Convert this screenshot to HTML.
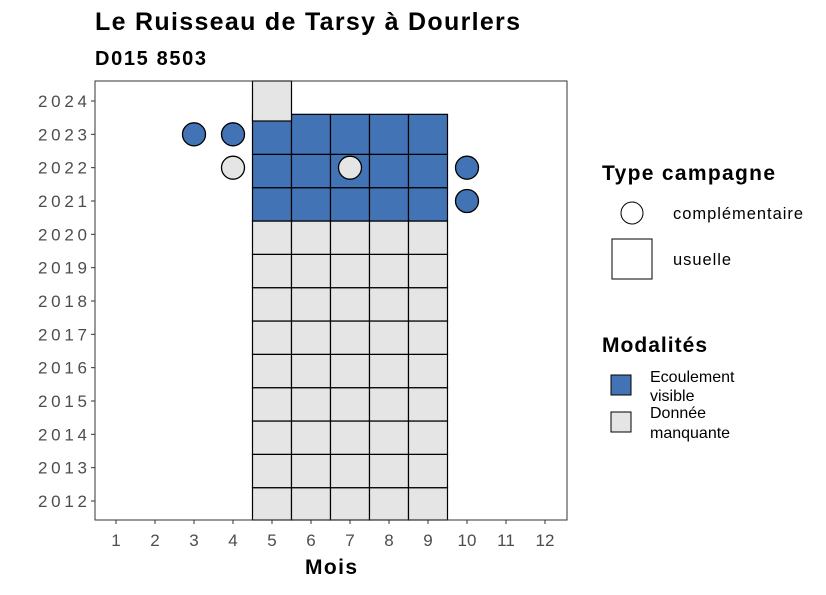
<!DOCTYPE html>
<html><head><meta charset="utf-8"><style>
body{margin:0;background:#fff;font-family:"Liberation Sans",sans-serif}
</style></head><body>
<svg id="c" width="826" height="590" xmlns="http://www.w3.org/2000/svg">
<text x="95" y="30" font-size="25" font-weight="bold" fill="#000" textLength="425" lengthAdjust="spacing">Le Ruisseau de Tarsy à Dourlers</text>
<text x="95" y="65" font-size="20" font-weight="bold" fill="#000" textLength="111" lengthAdjust="spacing">D015 8503</text>
<g id="tiles"></g><g id="pts"></g>
<rect x="95" y="81" width="472" height="439" fill="none" stroke="#333" stroke-width="1"/>
<g id="axes"></g>
<text x="331" y="574" font-size="21" font-weight="bold" text-anchor="middle" textLength="52" lengthAdjust="spacing">Mois</text>
<g>
<text x="602" y="180" font-size="21" font-weight="bold" textLength="173" lengthAdjust="spacing">Type campagne</text>
<circle cx="632" cy="213" r="11" fill="#fff" stroke="#000"/>
<text x="673" y="219" font-size="16.5" textLength="130" lengthAdjust="spacing">complémentaire</text>
<rect x="612" y="239" width="40" height="40" fill="#fff" stroke="#000"/>
<text x="673" y="265" font-size="16.5" textLength="58" lengthAdjust="spacing">usuelle</text>
<text x="602" y="352" font-size="21" font-weight="bold" textLength="105" lengthAdjust="spacing">Modalités</text>
<rect x="611" y="375" width="20" height="20" fill="#4273b5" stroke="#000"/>
<text font-size="16"><tspan x="650" y="382">Ecoulement</tspan><tspan x="650" y="401">visible</tspan></text>
<rect x="611" y="412" width="20" height="20" fill="#e5e5e5" stroke="#000"/>
<text font-size="16"><tspan x="650" y="418">Donnée</tspan><tspan x="650" y="438">manquante</tspan></text>
</g>
</svg>
<script>
const months=[1,2,3,4,5,6,7,8,9,10,11,12];
const years=[2012,2013,2014,2015,2016,2017,2018,2019,2020,2021,2022,2023,2024];
const tileMonths=[5,6,7,8,9,5,6,7,8,9,5,6,7,8,9,5,6,7,8,9,5,6,7,8,9,5,6,7,8,9,5,6,7,8,9,5,6,7,8,9,5,6,7,8,9,5,6,7,8,9,5,6,7,8,9,5,6,7,8,9,5];
const tileYears=[2012,2012,2012,2012,2012,2013,2013,2013,2013,2013,2014,2014,2014,2014,2014,2015,2015,2015,2015,2015,2016,2016,2016,2016,2016,2017,2017,2017,2017,2017,2018,2018,2018,2018,2018,2019,2019,2019,2019,2019,2020,2020,2020,2020,2020,2021,2021,2021,2021,2021,2022,2022,2022,2022,2022,2023,2023,2023,2023,2023,2024];
const tileMod=["m","m","m","m","m","m","m","m","m","m","m","m","m","m","m","m","m","m","m","m","m","m","m","m","m","m","m","m","m","m","m","m","m","m","m","m","m","m","m","m","m","m","m","m","m","e","e","e","e","e","e","e","e","e","e","e","e","e","e","e","m"];
const ptMonths=[3,4,4,7,10,10];
const ptYears=[2023,2023,2022,2022,2022,2021];
const ptMod=["e","e","m","m","e","e"];
const NS="http://www.w3.org/2000/svg";
const X=m=>116+(m-1)*39;
const Y=y=>501-(y-2012)*(400/12);
const col=k=>k==="e"?"#4273b5":"#e5e5e5";
const tg=document.getElementById("tiles");
tileMonths.forEach((m,i)=>{
 const y=tileYears[i];
 const top=Math.max(81,y>=2023?Y(y)-20:Y(y)-13.3);
 const bot=Math.min(520,Y(y)+20);
 const r=document.createElementNS(NS,"rect");
 r.setAttribute("x",X(m)-19.5);r.setAttribute("y",top);
 r.setAttribute("width",39);r.setAttribute("height",bot-top);
 r.setAttribute("fill",col(tileMod[i]));r.setAttribute("stroke","#000");r.setAttribute("stroke-width","1.2");
 
 
 tg.appendChild(r);
});
const pg=document.getElementById("pts");
ptMonths.forEach((m,i)=>{
 const c=document.createElementNS(NS,"circle");
 c.setAttribute("cx",X(m));c.setAttribute("cy",Y(ptYears[i]));c.setAttribute("r",11.5);
 c.setAttribute("fill",col(ptMod[i]));c.setAttribute("stroke","#000");c.setAttribute("stroke-width","1.3");
 
 
 pg.appendChild(c);
});
const ag=document.getElementById("axes");
months.forEach(m=>{
 const l=document.createElementNS(NS,"line");
 l.setAttribute("x1",X(m));l.setAttribute("x2",X(m));l.setAttribute("y1",520);l.setAttribute("y2",524);l.setAttribute("stroke","#333");
 
 
 ag.appendChild(l);
 const t=document.createElementNS(NS,"text");
 t.setAttribute("x",X(m));t.setAttribute("y",546);t.setAttribute("text-anchor","middle");t.setAttribute("font-size","17");t.setAttribute("fill","#4d4d4d");
 t.textContent=m;
 
 
 ag.appendChild(t);
});
years.forEach(y=>{
 const l=document.createElementNS(NS,"line");
 l.setAttribute("x1",91);l.setAttribute("x2",95);l.setAttribute("y1",Y(y));l.setAttribute("y2",Y(y));l.setAttribute("stroke","#333");
 
 
 ag.appendChild(l);
 const t=document.createElementNS(NS,"text");
 t.setAttribute("x",38);t.setAttribute("y",Y(y)+6);t.setAttribute("font-size","17");t.setAttribute("fill","#4d4d4d");
 t.setAttribute("textLength","49");t.setAttribute("lengthAdjust","spacing");
 t.textContent=y;
 
 
 ag.appendChild(t);
});
</script>
</body></html>
